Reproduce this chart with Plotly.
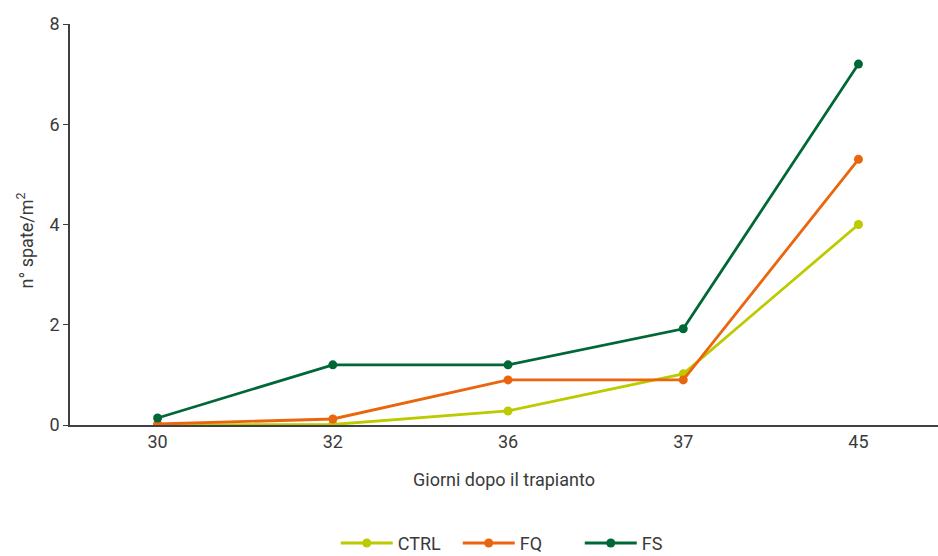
import plotly.graph_objects as go

# Days after transplant (categorical x)
giorni = ["30", "32", "36", "37", "45"]

# Number of flushes per m² for each treatment
ctrl = [0.0, 0.01, 0.28, 1.02, 4.0]
fq = [0.02, 0.12, 0.9, 0.9, 5.3]
fs = [0.14, 1.2, 1.2, 1.92, 7.2]

serie = [
    ("CTRL", ctrl, "#bcca00"),
    ("FQ", fq, "#eb650f"),
    ("FS", fs, "#006837"),
]

x_pos = list(range(len(giorni)))
font_family = "Roboto, Arial"
text_col = "#3a3a3a"

fig = go.Figure()
for nome, valori, colore in serie:
    fig.add_trace(go.Scatter(
        x=x_pos, y=valori, name=nome, mode="lines+markers",
        line=dict(color=colore, width=2.8),
        marker=dict(color=colore, size=9),
    ))

# y-axis title placed as a rotated annotation left of the tick labels
fig.add_annotation(
    text="n° spate/m<sup>2</sup>", textangle=-90, showarrow=False,
    xref="paper", yref="paper", x=-0.052, y=0.46,
    xanchor="center", yanchor="middle",
    font=dict(size=18, color=text_col),
)

fig.update_layout(
    width=938, height=556,
    margin=dict(l=70, r=0, t=24, b=131, autoexpand=False),
    paper_bgcolor="white", plot_bgcolor="white",
    font=dict(family=font_family, size=18, color=text_col),
    showlegend=True,
    legend=dict(orientation="h", x=0.517, xanchor="center", y=-0.295, yanchor="middle",
                font=dict(size=18, color=text_col), itemwidth=52, entrywidth=55,
                traceorder="normal"),
    xaxis=dict(
        tickmode="array", tickvals=x_pos, ticktext=giorni,
        range=[-0.5, 4.454], showgrid=False, zeroline=False,
        showline=True, linecolor="#404040", linewidth=1.5, ticks="",
        title=dict(text="Giorni dopo il trapianto", font=dict(size=18), standoff=22),
    ),
    yaxis=dict(
        range=[0, 8], tickvals=[0, 2, 4, 6, 8], showgrid=False, zeroline=False,
        showline=True, linecolor="#404040", linewidth=1.5,
        ticks="outside", ticklen=5, tickcolor="#404040",
    ),
)

fig.write_html("out.html")
